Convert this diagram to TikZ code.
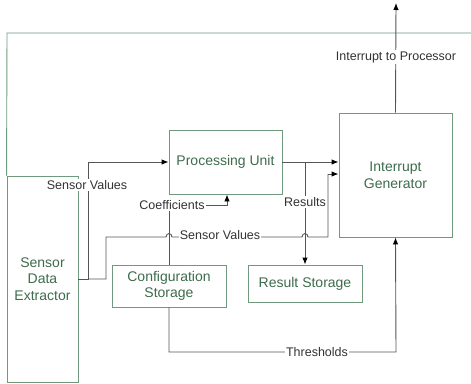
\documentclass[tikz,border=0pt]{standalone}
\usepackage{fontspec}
\setmainfont{Liberation Sans}
\usetikzlibrary{arrows.meta}
\definecolor{boxgreen}{HTML}{6F9A7E}
\definecolor{txtgreen}{HTML}{3D6B4C}
\definecolor{conngray}{HTML}{555555}
\definecolor{lbl}{HTML}{333333}
\begin{document}
\begin{tikzpicture}[x=1pt,y=-1pt,
  blk/.style={draw=boxgreen,line width=0.9pt,text=txtgreen,align=center,inner sep=0pt,
    font=\fontsize{14}{16.5}\selectfont},
  conn/.style={draw=conngray,line width=0.9pt},
  arr/.style={conn,-{Latex[length=7pt,width=5.5pt,black]}},
  lab/.style={fill=white,text=lbl,inner sep=1pt,font=\fontsize{12.5}{14}\selectfont}]
\useasboundingbox (0,0) rectangle (471,383);
% blocks
\node[blk,minimum width=71pt,minimum height=206pt] (sde) at (42.5,279) {Sensor\\Data\\Extractor};
\node[blk,minimum width=113pt,minimum height=64pt] (pu) at (225.5,162) {Processing Unit};
\node[blk,minimum width=113pt,minimum height=124pt] (ig) at (395.5,175) {Interrupt\\Generator};
\node[blk,minimum width=114pt,minimum height=42pt] (cs) at (169,286) {Configuration\\Storage};
\node[blk,minimum width=114pt,minimum height=37pt] (rs) at (305,283.5) {Result Storage};
% outer frame
\draw[draw=boxgreen,line width=0.9pt] (471,33) -- (7,33) -- (sde.north west);
% coordinates
\coordinate (sv1) at (88,279);
\coordinate (sv2) at (106,279);
\coordinate (cf) at (227,205);
\coordinate (rb) at (305,162);
\coordinate (th) at (396,352);
\coordinate (top) at (396,3);
% Sensor Values to processing unit
\draw[arr] (sde.east) -- (sv1) |- (pu.west);
\node[lab] (l1) at (87,185) {Sensor Values};
% Sensor Values to interrupt generator with hops
\draw[conn] (sv1) -- (sv2) -- (106,237) -- (166,237)
   .. controls (166,232.5) and (172,232.5) .. (172,237) -- (302,237)
   .. controls (302,232.5) and (308,232.5) .. (308,237) -- (328,237) -- (328,174);
\draw[arr] (328,174) -- (ig.west |- 0,174);
\node[lab] (l2) at (220,235) {Sensor Values};
% Coefficients
\draw[arr] (cs.north) |- (cf) -- (cf |- pu.south);
\node[lab] (l3) at (172,205) {Coefficients};
% Results
\draw[arr] (pu.east) -- (pu.east -| ig.west);
\draw[arr] (rb) -- (rs.north);
\node[lab] (l4) at (305,202) {Results};
% Thresholds
\draw[arr] (cs.south) |- (th) -- (ig.south);
\node[lab] (l5) at (317,352) {Thresholds};
% Interrupt to processor
\draw[arr] (ig.north) -- (top);
\node[lab] (l6) at (396,57) {Interrupt to Processor};
\end{tikzpicture}
\end{document}
